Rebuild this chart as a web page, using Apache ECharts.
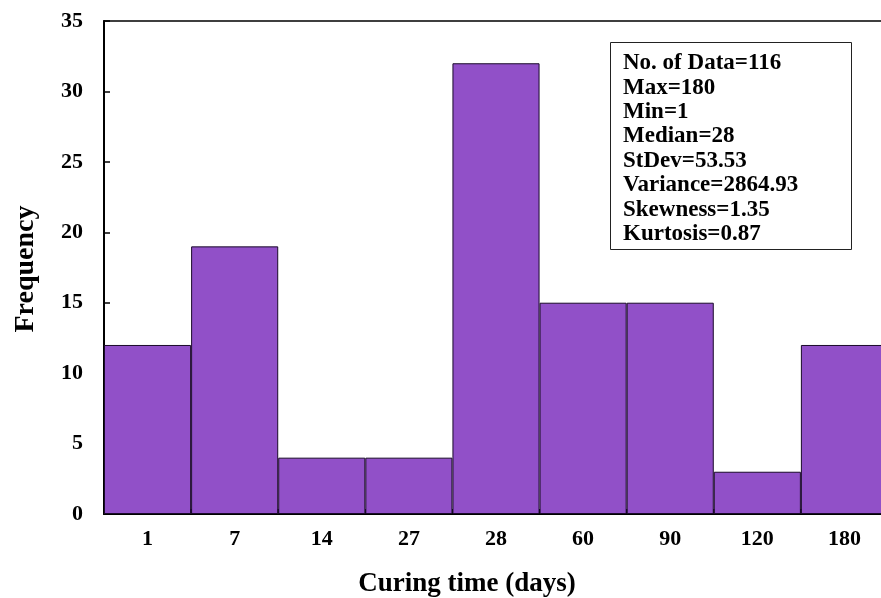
<!DOCTYPE html>
<html>
<head>
<meta charset="utf-8">
<script src="https://cdn.jsdelivr.net/npm/echarts@6/dist/echarts.min.js"></script>
<style>html,body{margin:0;padding:0;background:#fff}#c{width:881px;height:598px}</style>
</head>
<body>
<div id="c"></div>
<script>
const categories = ['1', '7', '14', '27', '28', '60', '90', '120', '180'];
const frequency = [12, 19, 4, 4, 32, 15, 15, 3, 12];
const yTicks = [0, 5, 10, 15, 20, 25, 30, 35];
const statsLines = ['No. of Data=116', 'Max=180', 'Min=1', 'Median=28', 'StDev=53.53', 'Variance=2864.93', 'Skewness=1.35', 'Kurtosis=0.87'];

const font = '"Liberation Serif", "Times New Roman", serif';
const chart = echarts.init(document.getElementById('c'));
chart.setOption({
  animation: false,
  backgroundColor: '#fff',
  grid: { left: 104, top: 21, width: 784, height: 493, outerBoundsMode: 'none', containLabel: false,
          show: true, borderColor: '#000', borderWidth: 1.5, backgroundColor: 'transparent' },
  xAxis: {
    type: 'category',
    data: categories,
    axisLine: { lineStyle: { color: '#000', width: 2 } },
    axisTick: { show: true, inside: true, length: 5, lineStyle: { color: '#000', width: 2 } },
    axisLabel: { color: '#000', fontFamily: font, fontWeight: 'bold', fontSize: 22, margin: 14 },
    splitLine: { show: false }
  },
  yAxis: {
    type: 'value',
    min: yTicks[0],
    max: yTicks[yTicks.length - 1],
    interval: 5,
    axisLine: { show: true, lineStyle: { color: '#000', width: 2 } },
    axisTick: { show: true, inside: true, length: 6, lineStyle: { color: '#000', width: 1.5 } },
    axisLabel: { color: '#000', fontFamily: font, fontWeight: 'bold', fontSize: 22, margin: 21 },
    splitLine: { show: false }
  },
  series: [{
    type: 'bar',
    data: frequency,
    barCategoryGap: 0,
    barWidth: '100%',
    itemStyle: { color: '#9150c8', borderColor: '#1a0a2a', borderWidth: 1 }
  }],
  graphic: [
    {
      type: 'text', x: 467, y: 584.5,
      style: { text: 'Curing time (days)', font: 'bold 27px ' + font, fill: '#000', textAlign: 'center', textVerticalAlign: 'middle' }
    },
    {
      type: 'text', x: 26, y: 269, rotation: Math.PI / 2,
      style: { text: 'Frequency', font: 'bold 28px ' + font, fill: '#000', textAlign: 'center', textVerticalAlign: 'middle' }
    },
    {
      type: 'rect', shape: { x: 610.5, y: 42.5, width: 241, height: 207 },
      style: { fill: '#fff', stroke: '#222', lineWidth: 1 }, z: 10
    },
    {
      type: 'text', x: 623, y: 51, z: 11,
      style: { text: statsLines.join('\n'), font: 'bold 23px ' + font, fill: '#000', lineHeight: 24.4 }
    }
  ]
});
</script>
</body>
</html>
